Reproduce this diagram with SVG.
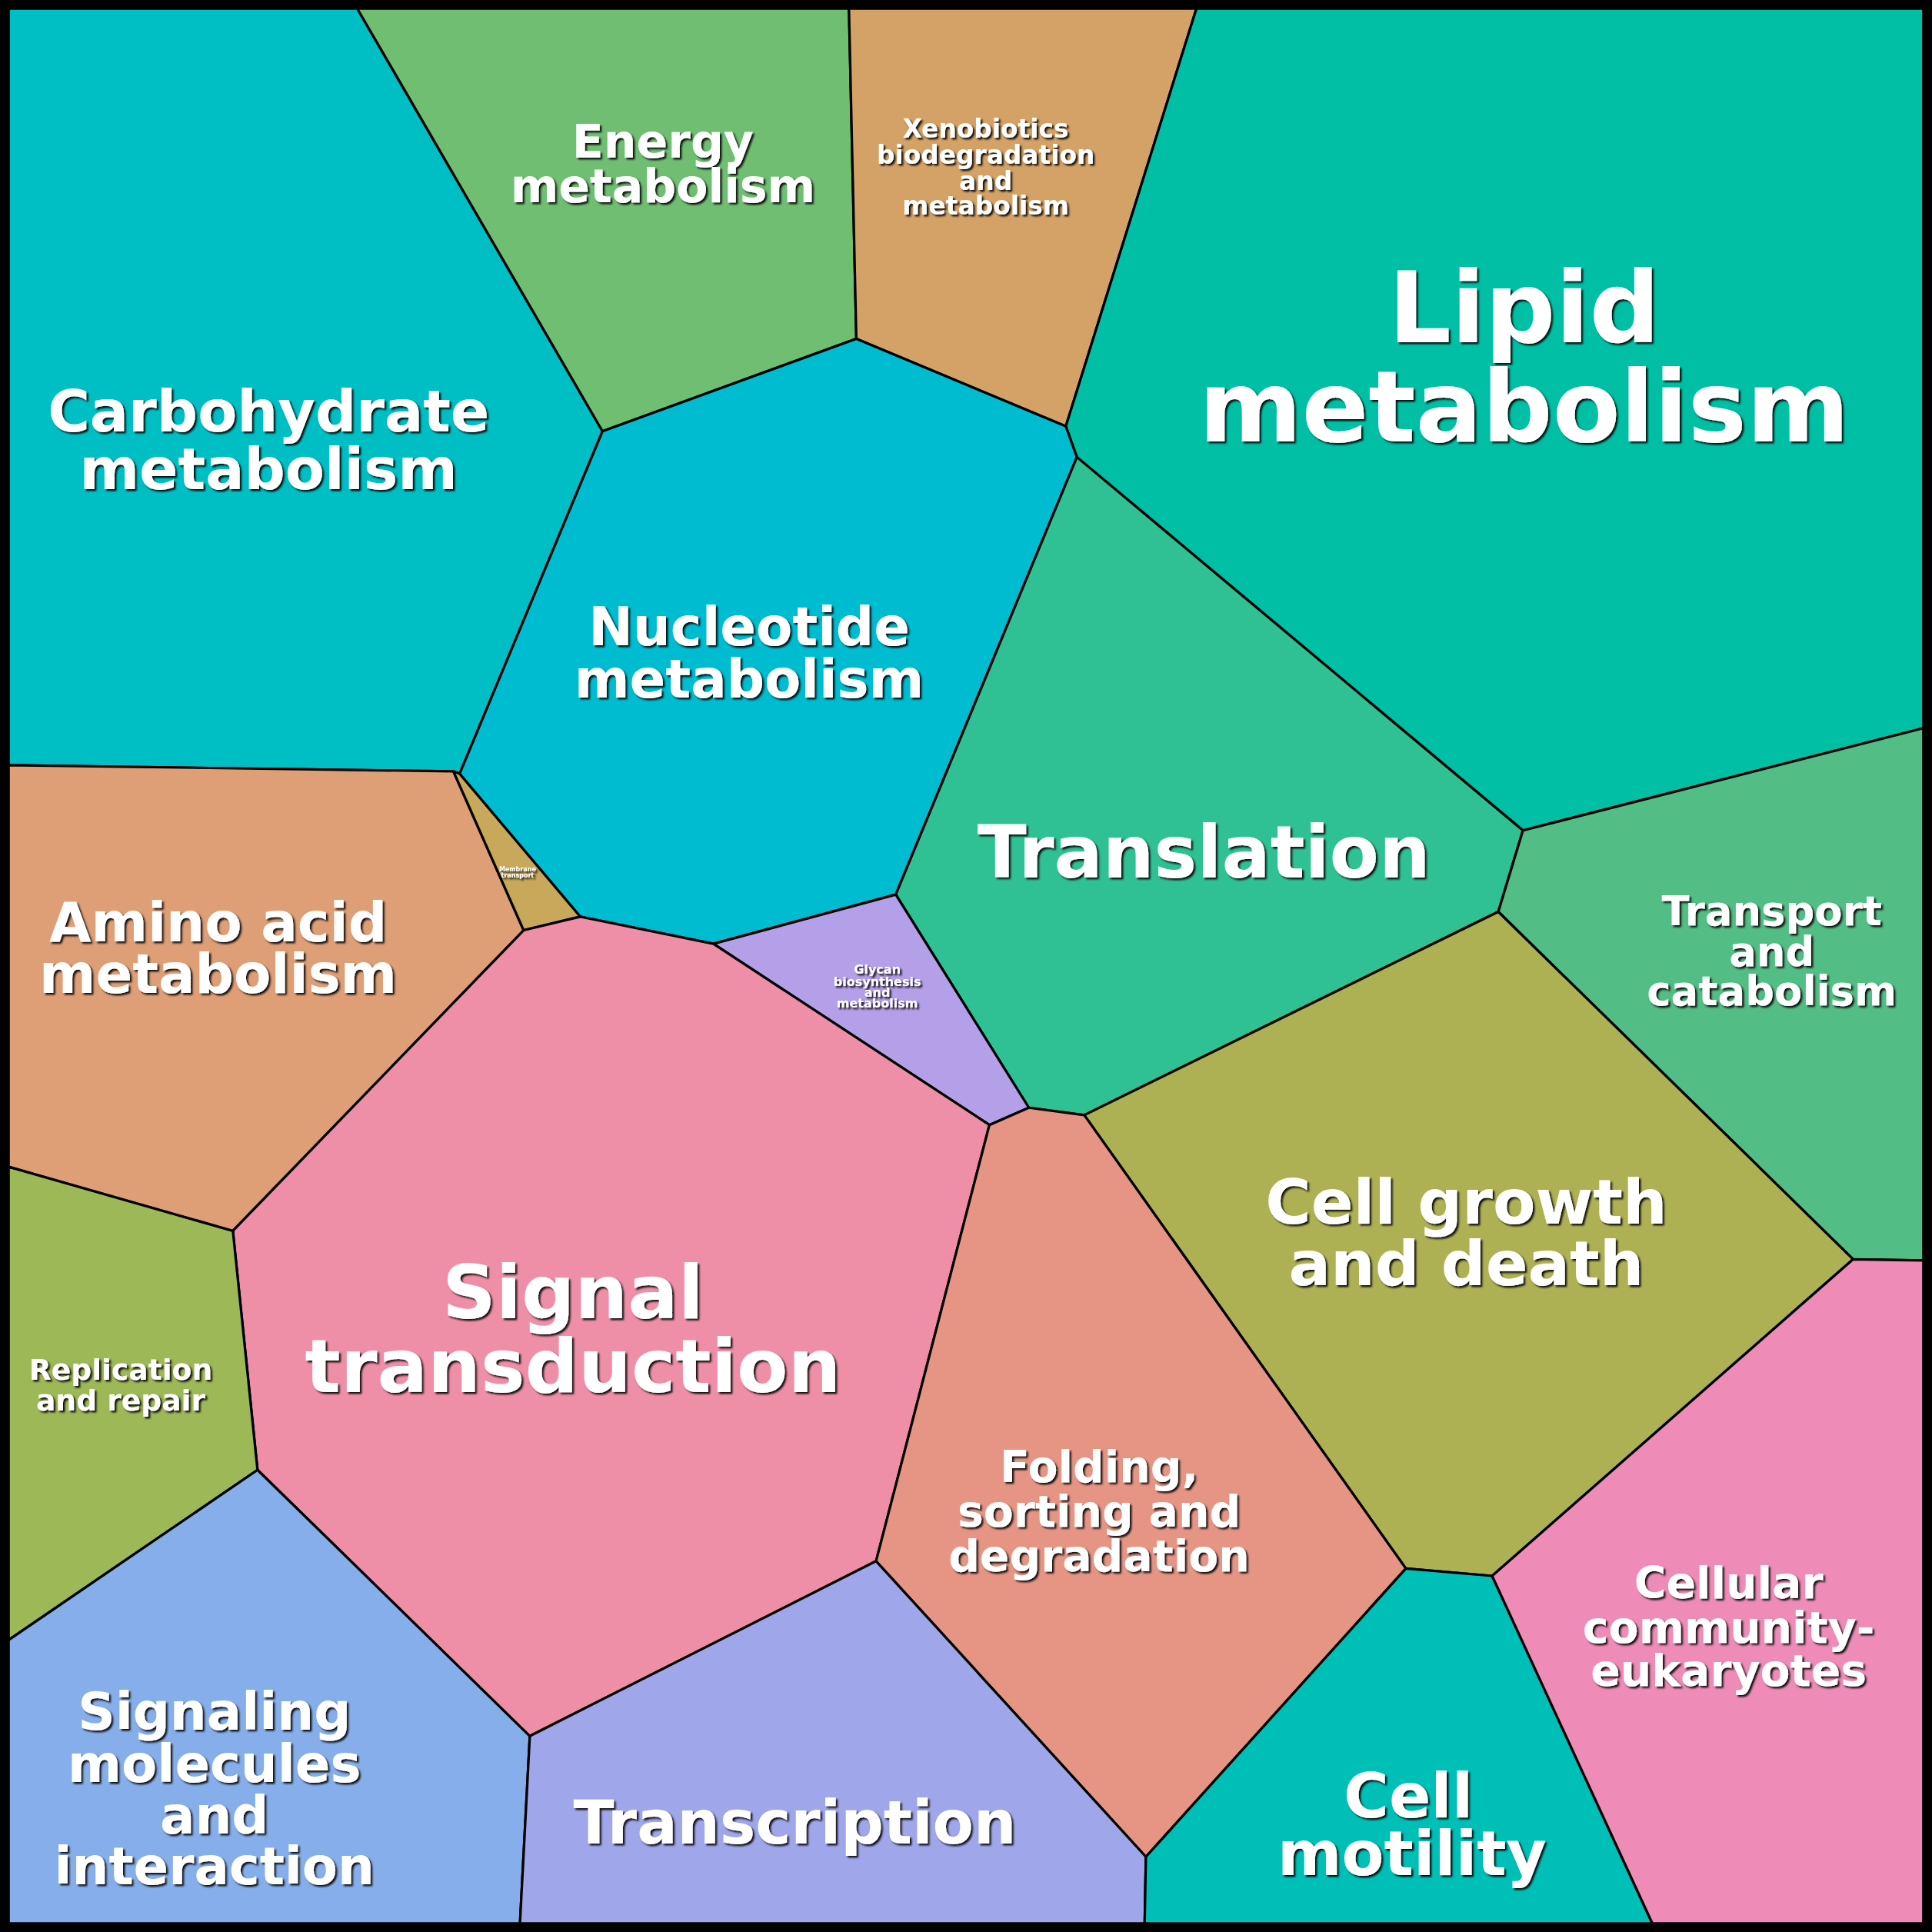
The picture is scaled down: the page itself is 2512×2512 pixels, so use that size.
<svg xmlns="http://www.w3.org/2000/svg" width="2512" height="2512" viewBox="0 0 2512 2512">
<defs>
<filter id="sh" x="-10%" y="-10%" width="120%" height="130%"><feDropShadow dx="1.5" dy="1.5" stdDeviation="0.8" flood-color="#000" flood-opacity="0.9"/></filter>
<style>
.c{stroke:#000;stroke-width:2;stroke-linejoin:round}
text{font-family:"DejaVu Sans",sans-serif;font-weight:bold;fill:#fff;text-anchor:middle;filter:url(#sh)}
</style>
</defs>
<rect width="2512" height="2512" fill="#000"/>
<g transform="scale(1.60204)">
<g id="carbohydrate"><polygon class="c" fill="#00BFC4" points="7,7 290,7 489,350 373,628 368,626 7,621"/><text font-size="46.5"><tspan x="218" y="350">Carbohydrate</tspan><tspan x="218" y="397">metabolism</tspan></text></g>
<g id="energy"><polygon class="c" fill="#6FBE72" points="290,7 689,7 695,275 489,350"/><text font-size="37.5"><tspan x="538" y="128">Energy</tspan><tspan x="538" y="164">metabolism</tspan></text></g>
<g id="xenobiotics"><polygon class="c" fill="#D4A266" points="689,7 971,7 865,346 695,275"/><text font-size="20.5"><tspan x="800" y="112">Xenobiotics</tspan><tspan x="800" y="133">biodegradation</tspan><tspan x="800" y="154">and</tspan><tspan x="800" y="174">metabolism</tspan></text></g>
<g id="lipid"><polygon class="c" fill="#00BFA4" points="971,7 1561,7 1561,591 1236,674 874,371 865,346"/><text font-size="80"><tspan x="1237" y="278">Lipid</tspan><tspan x="1237" y="358">metabolism</tspan></text></g>
<g id="nucleotide"><polygon class="c" fill="#00BCD0" points="489,350 695,275 865,346 874,371 727,726 579,766 471,744 373,628"/><text font-size="43"><tspan x="608" y="524">Nucleotide</tspan><tspan x="608" y="566">metabolism</tspan></text></g>
<g id="translation"><polygon class="c" fill="#2FC193" points="874,371 1236,674 1216,740 880,905 835,899 727,726"/><text font-size="58.5" x="977" y="712">Translation</text></g>
<g id="transport"><polygon class="c" fill="#52BD84" points="1561,591 1561,1023 1504,1022 1216,740 1236,674"/><text font-size="33"><tspan x="1438" y="751">Transport</tspan><tspan x="1438" y="784">and</tspan><tspan x="1438" y="816">catabolism</tspan></text></g>
<g id="amino"><polygon class="c" fill="#DE9E76" points="7,621 368,626 425,755 189,999 7,947"/><text font-size="44"><tspan x="177" y="764">Amino acid</tspan><tspan x="177" y="806">metabolism</tspan></text></g>
<g id="membrane"><polygon class="c" fill="#C8A85A" points="368,626 373,628 471,744 425,755"/><text font-size="5"><tspan x="420" y="707">Membrane</tspan><tspan x="420" y="712">transport</tspan></text></g>
<g id="glycan"><polygon class="c" fill="#B4A0E8" points="727,726 835,899 803,913 579,766"/><text font-size="10"><tspan x="712" y="790">Glycan</tspan><tspan x="712" y="800">biosynthesis</tspan><tspan x="712" y="809">and</tspan><tspan x="712" y="818">metabolism</tspan></text></g>
<g id="signal"><polygon class="c" fill="#EF8FA7" points="425,755 471,744 579,766 803,913 711,1267 430,1409 209,1193 189,999"/><text font-size="60.5"><tspan x="465" y="1070">Signal</tspan><tspan x="465" y="1130">transduction</tspan></text></g>
<g id="cellgrowth"><polygon class="c" fill="#ADB153" points="1216,740 1504,1022 1211,1279 1141,1273 880,905"/><text font-size="50.5"><tspan x="1190" y="993">Cell growth</tspan><tspan x="1190" y="1043">and death</tspan></text></g>
<g id="folding"><polygon class="c" fill="#E69585" points="835,899 880,905 1141,1273 930,1507 711,1267 803,913"/><text font-size="35.5"><tspan x="892" y="1203">Folding,</tspan><tspan x="892" y="1239">sorting and</tspan><tspan x="892" y="1275">degradation</tspan></text></g>
<g id="replication"><polygon class="c" fill="#9CB857" points="7,947 189,999 209,1193 7,1331"/><text font-size="23.5"><tspan x="98" y="1120">Replication</tspan><tspan x="98" y="1145">and repair</tspan></text></g>
<g id="signaling"><polygon class="c" fill="#86AEEA" points="7,1331 209,1193 430,1409 422,1561 7,1561"/><text font-size="42"><tspan x="174" y="1404">Signaling</tspan><tspan x="174" y="1446">molecules</tspan><tspan x="174" y="1488">and</tspan><tspan x="174" y="1529">interaction</tspan></text></g>
<g id="transcription"><polygon class="c" fill="#9FA6EA" points="430,1409 711,1267 930,1507 929,1561 422,1561"/><text font-size="48.5" x="645" y="1496">Transcription</text></g>
<g id="motility"><polygon class="c" fill="#00BFB6" points="930,1507 1141,1273 1211,1279 1341,1561 929,1561"/><text font-size="50"><tspan x="1143" y="1475">Cell</tspan><tspan x="1146" y="1522">motility</tspan></text></g>
<g id="community"><polygon class="c" fill="#EE8BB6" points="1211,1279 1504,1022 1561,1023 1561,1561 1341,1561"/><text font-size="35.5"><tspan x="1403" y="1297">Cellular</tspan><tspan x="1403" y="1333">community-</tspan><tspan x="1403" y="1368">eukaryotes</tspan></text></g>
<g id="connectors"/>
</g>
</svg>
